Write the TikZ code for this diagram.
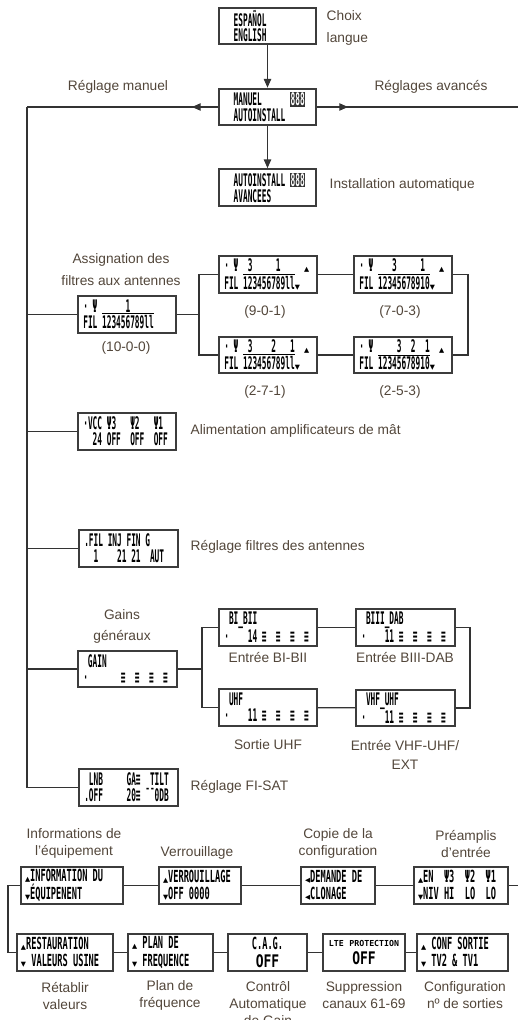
\documentclass[tikz,border=0pt]{standalone}
\usepackage{fontspec}
\setmainfont{Liberation Sans}
\newfontfamily\lcdfont[FakeStretch=0.45]{DejaVu Sans Mono}
\newfontfamily\lcdwidefont[FakeStretch=0.52]{DejaVu Sans Mono}
\newfontfamily\lcdbigfont[FakeStretch=0.75]{DejaVu Sans Mono}
\newfontfamily\lcdplain{DejaVu Sans Mono}
\newfontfamily\symfont{DejaVu Sans}
\usetikzlibrary{arrows.meta}

\definecolor{labelgray}{RGB}{82,70,58}
\definecolor{framegray}{RGB}{60,60,60}

% LCD glyphs
\newcommand{\upm}{{\symfont\fontsize{5}{5}\selectfont ▲}}
\newcommand{\dnm}{{\symfont\fontsize{5}{5}\selectfont ▼}}
\newcommand{\lfm}{{\symfont\fontsize{5}{5}\selectfont ◀}}
\newcommand{\bars}{≡}
\newcommand{\ant}{Ψ}
\newcommand{\dig}{{\setlength{\fboxsep}{0.5pt}\colorbox{black!80}{\textcolor{white}{888}}}}
\newcommand{\ovl}[1]{\setbox0\hbox{#1}\rlap{\rule[\dimexpr\ht0+1pt\relax]{\wd0}{0.6pt}}\box0}
\newcommand{\bigoff}{{\lcdbigfont\bfseries\fontsize{13}{14}\selectfont OFF}}
\newcommand{\monospace}{\def~{\hphantom{0}}}

\tikzset{
  lcd/.style={draw=framegray, line width=1.5pt, fill=white, inner xsep=4pt,
    inner ysep=0pt, minimum height=27.5pt, text width=#1, align=left,
    font=\lcdfont\bfseries\fontsize{13}{11.8}\selectfont\monospace},
  lcdb/.style={lcd=#1, inner xsep=3pt, font=\lcdwidefont\bfseries\fontsize{12.5}{13}\selectfont\monospace},
  lcdc/.style={lcdb=#1, align=center},
  note/.style={text=labelgray, align=center, font=\fontsize{10.3}{16.5}\selectfont},
  notesm/.style={note, font=\fontsize{10.3}{12.75}\selectfont},
  wire/.style={draw=black!80, line width=0.9pt},
}

\begin{document}
\begin{tikzpicture}[x=0.75pt,y=-0.75pt,>={Triangle[length=6.5pt,width=5.5pt]}]
  \useasboundingbox (0,0) rectangle (518,1020);

  % language and start menu
  \node[lcd=64.8pt] (lang) at (267.5,26) {~~ESPAÑOL\\~~ENGLISH};
  \node[lcd=64.8pt] (menu) at (267.5,107) {~~MANUEL~~~~~~\dig\\~~AUTOINSTALL};
  \node[lcd=64.8pt] (auto) at (267.5,187.5) {~~AUTOINSTALL~\dig\\~~AVANCEES};
  \node[note, anchor=west, align=left] (langtxt) at (322,28) {Choix\\langue};
  \node[note] (mantxt) at (118,87) {Réglage manuel};
  \node[note] (advtxt) at (431,87) {Réglages avancés};
  \node[note, anchor=west] (autotxt) at (325,185) {Installation automatique};

  \coordinate (railtop) at (27,107);
  \coordinate (advend) at (518,107);
  \draw[wire,->] (lang) -- (menu);
  \draw[wire,->] (menu) -- (auto);
  \draw[wire] (menu) -- (railtop);
  \draw[wire,->] (menu.west) -- ++(-26,0);
  \draw[wire] (menu) -- (advend);
  \draw[wire,->] (menu.east) -- ++(31,0);

  % filters
  \node[note] (filtxt) at (121,270) {Assignation des\\filtres aux antennes};
  \node[lcd=65.5pt] (f0) at (127,314.5) {·~\ant~~~~~~1\\FIL~\ovl{123456789ll}};
  \node[lcd=65.5pt] (f1) at (268,274.5) {·~\ant~~3~~~~~1~~~~~\upm\\FIL~\ovl{123456789ll}\dnm};
  \node[lcd=65.5pt] (f2) at (403,274.5) {·~\ant~~~~3~~~~~1~~~\upm\\FIL~\ovl{12345678910}\dnm};
  \node[lcd=65.5pt] (f3) at (268,355) {·~\ant~~3~~~~2~~~1~~\upm\\FIL~\ovl{123456789ll}\dnm};
  \node[lcd=65.5pt] (f4) at (403,355) {·~\ant~~~~~3~~2~~1~~\upm\\FIL~\ovl{12345678910}\dnm};
  \node[note] (f0txt) at (126,348) {(10-0-0)};
  \node[note] (f1txt) at (265,312) {(9-0-1)};
  \node[note] (f2txt) at (400,312) {(7-0-3)};
  \node[note] (f3txt) at (265,392) {(2-7-1)};
  \node[note] (f4txt) at (400,392) {(2-5-3)};

  \coordinate (ffork) at (199,314.5);
  \coordinate (fright) at (468,314.5);
  \draw[wire] (f0) -- (ffork);
  \draw[wire] (f1.west) -| (ffork) |- (f3.west);
  \draw[wire] (f1) -- (f2);
  \draw[wire] (f3) -- (f4);
  \draw[wire] (f2.east) -| (fright) |- (f4.east);

  % supply and filter setting
  \node[lcd=65.5pt] (vcc) at (127,431.5) {·VCC~\ant3~~~\ant2~~~\ant1\\~~24~OFF~~OFF~~OFF};
  \node[note, anchor=west] (vcctxt) at (186,431) {Alimentation amplificateurs de mât};
  \node[lcd=66.3pt] (fin) at (128.5,548.5) {.FIL~INJ~FIN~G\\~~1~~~~21~21~~AUT};
  \node[note, anchor=west] (fintxt) at (186,547) {Réglage filtres des antennes};

  % gains
  \node[note, font=\fontsize{10.3}{15.75}\selectfont] (gaintxt) at (122,626.5) {Gains\\généraux};
  \node[lcd=66.3pt] (gain) at (127.5,669) {~GAIN\\·~~~~~~~\bars~~\bars~~\bars~~\bars};
  \node[lcd=65.5pt] (g1) at (268,627.5) {~BI\_BII\\·~~~~14~\bars~~\bars~~\bars~~\bars};
  \node[lcd=66.3pt] (g2) at (405.5,627.5) {~BIII\_DAB\\·~~~~11~\bars~~\bars~~\bars~~\bars};
  \node[lcd=65.5pt] (g3) at (268,707.5) {~UHF\\·~~~~11~\bars~~\bars~~\bars~~\bars};
  \node[lcd=66.3pt] (g4) at (405.5,708) {~VHF\_UHF\\·~~~~11~\bars~~\bars~~\bars~~\bars};
  \node[note] (g1txt) at (268,658) {Entrée BI-BII};
  \node[note] (g2txt) at (405,658) {Entrée BIII-DAB};
  \node[note] (g3txt) at (268,745) {Sortie UHF};
  \node[note, font=\fontsize{10.3}{14.3}\selectfont] (g4txt) at (405,754.5) {Entrée VHF-UHF/\\EXT};

  \coordinate (gfork) at (202,669);
  \coordinate (gright) at (470,669);
  \draw[wire] (gain) -- (gfork);
  \draw[wire] (g1.west) -| (gfork) |- (g3.west);
  \draw[wire] (g1) -- (g2);
  \draw[wire] (g3) -- (g4);
  \draw[wire] (g2.east) -| (gright) |- (g4.east);

  % satellite
  \node[lcd=66.3pt] (sat) at (128.5,787.5) {~LNB~~~~~GA\bars~~TILT\\.OFF~~~~~20\bars~¯¯0DB};
  \node[note, anchor=west] (sattxt) at (186,787) {Réglage FI-SAT};

  % manual rail
  \draw[wire] (railtop) |- (sat.west);
  \draw[wire] (f0.west) -- (f0.west -| railtop);
  \draw[wire] (vcc.west) -- (vcc.west -| railtop);
  \draw[wire] (fin.west) -- (fin.west -| railtop);
  \draw[wire] (gain.west) -- (gain.west -| railtop);

  % advanced settings, first row
  \node[notesm] (i1txt) at (74,843.5) {Informations de\\l’équipement};
  \node[notesm] (i2txt) at (197,853) {Verrouillage};
  \node[notesm] (i3txt) at (338,843.5) {Copie de la\\configuration};
  \node[notesm] (i4txt) at (466,844) {Préamplis\\d’entrée};
  \node[lcdb=70.5pt] (i1) at (72,885.5) {\upm INFORMATION~DU\\\dnm ÉQUIPENENT};
  \node[lcdb=55.5pt] (i2) at (200,885.5) {\upm VERROUILLAGE\\\dnm OFF~0000};
  \node[lcdb=49.5pt] (i3) at (338,885.5) {\lfm DEMANDE~DE\\\lfm CLONAGE};
  \node[lcdb=64.5pt] (i4) at (461,885.5) {\upm EN~~\ant3~~\ant2~~\ant1\\\dnm NIV~HI~~LO~~LO};

  \coordinate (rowend) at (518,885.5);
  \coordinate (loopl) at (8,885.5);
  \draw[wire] (i1) -- (i2);
  \draw[wire] (i2) -- (i3);
  \draw[wire] (i3) -- (i4);
  \draw[wire] (i4) -- (rowend);

  % advanced settings, second row
  \node[lcdb=66pt] (r1) at (65,952.5) {\upm RESTAURATION\\\dnm ~VALEURS~USINE};
  \node[lcdb=57.75pt] (r2) at (170.5,952.5) {\upm ~PLAN~DE\\\dnm ~FREQUENCE};
  \node[lcdc=53.25pt] (r3) at (267.5,952.5) {C.A.G.\\\bigoff};
  \node[lcdc=55.5pt] (r4) at (364,952.5) {{\lcdplain\fontsize{6.2}{7}\selectfont LTE PROTECTION}\\\bigoff};
  \node[lcdb=62.25pt] (r5) at (462.5,952.5) {\upm ~CONF~SORTIE\\\dnm ~TV2~\&~TV1};
  \node[notesm] (r1txt) at (65,995.5) {Rétablir\\valeurs};
  \node[notesm] (r2txt) at (170,995.5) {Plan de\\fréquence};
  \node[notesm] (r3txt) at (268,1004) {Contrôl\\Automatique\\de Gain};
  \node[notesm] (r4txt) at (364,995.5) {Suppression\\canaux 61-69};
  \node[notesm] (r5txt) at (465,995.5) {Configuration\\nº de sorties};

  \draw[wire] (i1.west) -- (loopl) |- (r1.west);
  \draw[wire] (r1) -- (r2);
  \draw[wire] (r2) -- (r3);
  \draw[wire] (r3) -- (r4);
  \draw[wire] (r4) -- (r5);
\end{tikzpicture}
\end{document}
